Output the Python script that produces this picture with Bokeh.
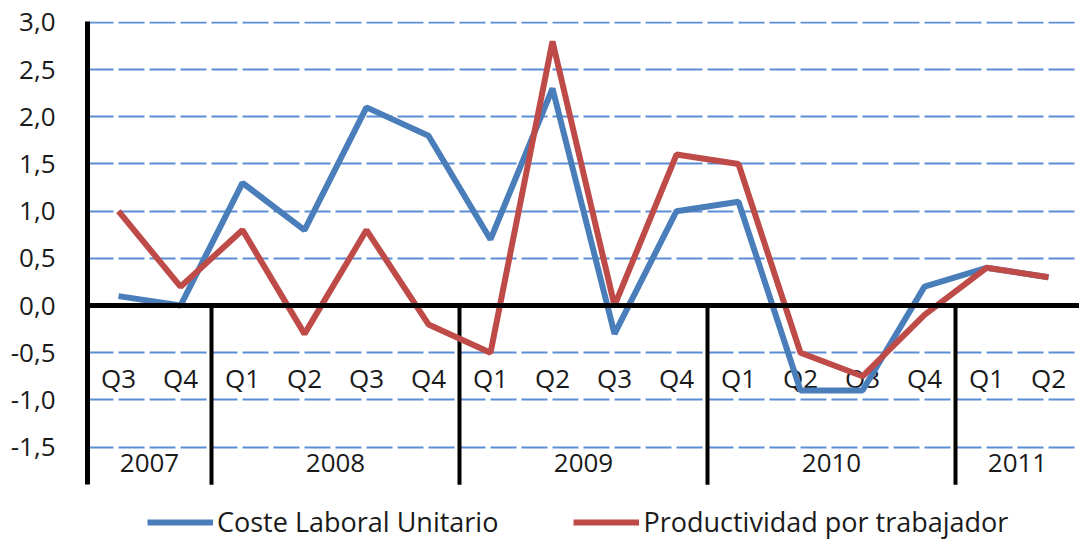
from bokeh.plotting import figure
from bokeh.models import Span, Legend, LegendItem, FixedTicker
from bokeh.core.properties import value
from bokeh.embed import file_html
from bokeh.resources import INLINE

quarters = ["Q3", "Q4", "Q1", "Q2", "Q3", "Q4", "Q1", "Q2", "Q3", "Q4", "Q1", "Q2", "Q3", "Q4", "Q1", "Q2"]
years_of_points = ["2007", "2007", "2008", "2008", "2008", "2008", "2009", "2009", "2009", "2009",
                   "2010", "2010", "2010", "2010", "2011", "2011"]
coste_laboral = [0.1, 0.0, 1.3, 0.8, 2.1, 1.8, 0.7, 2.3, -0.3, 1.0, 1.1, -0.9, -0.9, 0.2, 0.4, 0.3]
productividad = [1.0, 0.2, 0.8, -0.3, 0.8, -0.2, -0.5, 2.8, 0.0, 1.6, 1.5, -0.5, -0.75, -0.1, 0.4, 0.3]
y_ticks = [-1.5, -1.0, -0.5, 0.0, 0.5, 1.0, 1.5, 2.0, 2.5, 3.0]

BLUE = "#4A7EBB"
RED = "#BE4B48"
GRID = "#5B8ED6"
FONT = "Open Sans"
TXT = "#1a1a1a"

n = len(quarters)
xs = list(range(n))
axis_min, y_max = -1.9, 3.01
frame_min = -2.49
q_label_y = -0.77
year_label_y = -1.67

p = figure(width=1079, height=540, x_range=(-0.5, n - 0.5), y_range=(frame_min, y_max),
           output_backend="svg", toolbar_location=None,
           min_border_left=87, min_border_right=0, min_border_top=21, min_border_bottom=0)
p.outline_line_color = None
p.xaxis.visible = False
p.xgrid.visible = False

p.yaxis.bounds = (axis_min, y_max)
p.yaxis.ticker = FixedTicker(ticks=y_ticks)
p.yaxis.major_label_overrides = {t: f"{t:.1f}".replace(".", ",") for t in y_ticks}
p.yaxis.major_label_text_font = FONT
p.yaxis.major_label_text_font_size = "26px"
p.yaxis.major_label_text_color = TXT
p.yaxis.major_tick_line_color = None
p.yaxis.minor_tick_line_color = None
p.yaxis.axis_line_width = 5
p.yaxis.axis_line_color = "black"
p.yaxis.major_label_standoff = 26

p.ygrid.ticker = FixedTicker(ticks=[t for t in y_ticks if t != 0.0])
p.ygrid.grid_line_color = GRID
p.ygrid.grid_line_width = 2
p.ygrid.grid_line_dash = "26 5"

# zero line
p.add_layout(Span(location=0, dimension="width", line_color="black", line_width=5))

# year separators and labels
uniq_years = []
for y in years_of_points:
    if y not in uniq_years:
        uniq_years.append(y)
sep_x = [i - 0.5 for i in range(1, n) if years_of_points[i] != years_of_points[i - 1]]
p.segment(x0=sep_x, y0=[0] * len(sep_x), x1=sep_x, y1=[axis_min] * len(sep_x),
          line_color="black", line_width=4)
year_centers = [sum(i for i in xs if years_of_points[i] == yr) / years_of_points.count(yr) for yr in uniq_years]
p.text(x=year_centers, y=[year_label_y] * len(uniq_years), text=uniq_years,
       text_align="center", text_baseline="middle", text_font=value(FONT),
       text_font_size="26px", text_color=TXT)
p.text(x=xs, y=[q_label_y] * n, text=quarters,
       text_align="center", text_baseline="middle", text_font=value(FONT),
       text_font_size="26px", text_color=TXT)

r1 = p.line(xs, coste_laboral, line_color=BLUE, line_width=6)
r2 = p.line(xs, productividad, line_color=RED, line_width=6)

legend = Legend(items=[LegendItem(label="Coste Laboral Unitario", renderers=[r1]),
                       LegendItem(label="Productividad por trabajador", renderers=[r2])],
                orientation="horizontal", location=(60, 0),
                label_text_font=FONT, label_text_font_size="27px", label_text_color=TXT,
                glyph_width=66, glyph_height=20, label_standoff=4, spacing=75,
                border_line_color=None, background_fill_alpha=0, margin=0, padding=0)
p.add_layout(legend, "center")

open("out.html", "w").write(file_html(p, INLINE))
